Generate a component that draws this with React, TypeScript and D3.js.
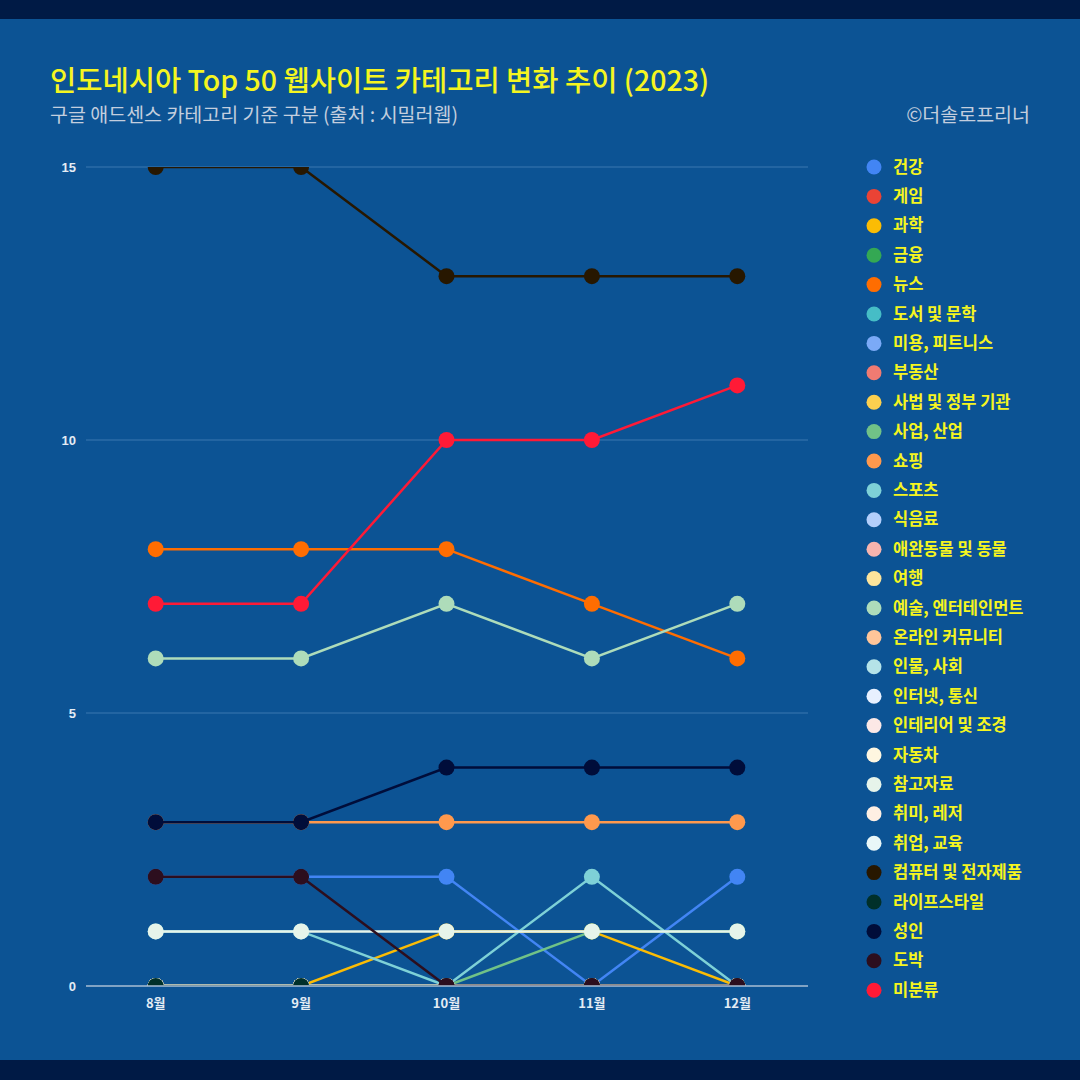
import * as d3 from 'd3';
import { useEffect, useRef } from 'react';

// months on the x axis
const months = ['8월', '9월', '10월', '11월', '12월'];
const yTicks = [0, 5, 10, 15];

// category names (legend order) and their colours
const categories = [
  '건강', '게임', '과학', '금융', '뉴스', '도서 및 문학', '미용, 피트니스', '부동산',
  '사법 및 정부 기관', '사업, 산업', '쇼핑', '스포츠', '식음료', '애완동물 및 동물', '여행',
  '예술, 엔터테인먼트', '온라인 커뮤니티', '인물, 사회', '인터넷, 통신', '인테리어 및 조경',
  '자동차', '참고자료', '취미, 레저', '취업, 교육', '컴퓨터 및 전자제품', '라이프스타일',
  '성인', '도박', '미분류',
];
const colors = [
  '#4285f4', '#ea4335', '#fbbc04', '#34a853', '#ff6d01', '#46bdc6', '#7baaf7', '#f07b72',
  '#fcd04f', '#71c287', '#ff994d', '#7ed1d7', '#b3cefb', '#f7b4ae', '#fde49b',
  '#aedcba', '#ffc599', '#b5e3e8', '#e8f0fe', '#fce8e6',
  '#fef6e0', '#e6f4ea', '#feefe3', '#e9f7f8', '#271700', '#00302a',
  '#000d3a', '#2c0e1e', '#ff1a36',
];
// site counts per month, same order as categories
const values = [
  [2, 2, 2, 0, 2],
  [0, 0, 0, 0, 0],
  [0, 0, 1, 1, 0],
  [0, 0, 0, 0, 0],
  [8, 8, 8, 7, 6],
  [0, 0, 0, 0, 0],
  [0, 0, 0, 0, 0],
  [0, 0, 0, 0, 0],
  [0, 0, 0, 0, 0],
  [0, 0, 0, 1, 1],
  [3, 3, 3, 3, 3],
  [1, 1, 0, 2, 0],
  [0, 0, 0, 0, 0],
  [0, 0, 0, 0, 0],
  [0, 0, 0, 0, 0],
  [6, 6, 7, 6, 7],
  [0, 0, 0, 0, 0],
  [0, 0, 0, 0, 0],
  [0, 0, 0, 0, 0],
  [0, 0, 0, 0, 0],
  [0, 0, 0, 0, 0],
  [1, 1, 1, 1, 1],
  [0, 0, 0, 0, 0],
  [0, 0, 0, 0, 0],
  [15, 15, 13, 13, 13],
  [0, 0, 0, 0, 0],
  [3, 3, 4, 4, 4],
  [2, 2, 0, 0, 0],
  [7, 7, 10, 10, 11],
];

const W = 1080;
const H = 1080;
const FONT = '"Noto Sans CJK KR", "Noto Sans", sans-serif';
const TICK_FONT = '"Liberation Sans", Arial, sans-serif';

const Chart = () => {
  const ref = useRef<SVGSVGElement | null>(null);

  useEffect(() => {
    const svg = d3.select(ref.current);
    svg.selectAll('*').remove();

    // background bands
    svg.append('rect').attr('width', W).attr('height', H).attr('fill', '#001a45');
    svg.append('rect').attr('x', 0).attr('y', 19).attr('width', W).attr('height', 1041).attr('fill', '#0c5394');

    // titles
    svg.append('text')
      .attr('x', 50).attr('y', 91)
      .attr('font-family', FONT).attr('font-size', 28.5).attr('font-weight', 500)
      .attr('fill', '#f5f520')
      .text('인도네시아 Top 50 웹사이트 카테고리 변화 추이 (2023)');
    svg.append('text')
      .attr('x', 50).attr('y', 122)
      .attr('font-family', FONT).attr('font-size', 19.5)
      .attr('fill', '#c3cede')
      .text('구글 애드센스 카테고리 기준 구분 (출처 : 시밀러웹)');
    svg.append('text')
      .attr('x', 1030).attr('y', 122).attr('text-anchor', 'end')
      .attr('font-family', FONT).attr('font-size', 19.5)
      .attr('fill', '#c3cede')
      .text('©더솔로프리너');

    const left = 86, right = 808, top = 167, bottom = 986;
    const x = d3.scalePoint<string>().domain(months).range([83, 810]).padding(0.5);
    const y = d3.scaleLinear().domain([0, 15]).range([bottom, top]);

    // grid
    svg.append('g')
      .selectAll('line')
      .data(yTicks.filter((t) => t > 0))
      .join('line')
      .attr('x1', left).attr('x2', right)
      .attr('y1', (d) => y(d)).attr('y2', (d) => y(d))
      .attr('stroke', '#3a78b0').attr('stroke-width', 1);

    svg.append('g')
      .attr('font-family', TICK_FONT).attr('font-size', 13).attr('font-weight', 700)
      .attr('fill', '#e4ecf4').attr('text-anchor', 'end')
      .selectAll('text')
      .data(yTicks)
      .join('text')
      .attr('x', 76).attr('y', (d) => y(d) + 5)
      .text((d) => d);

    svg.append('g')
      .attr('font-family', FONT).attr('font-size', 13).attr('font-weight', 700)
      .attr('fill', '#e4ecf4').attr('text-anchor', 'middle')
      .selectAll('text')
      .data(months)
      .join('text')
      .attr('x', (d) => x(d)!).attr('y', 1008)
      .text((d) => d);

    // plot area clip
    svg.append('clipPath').attr('id', 'plot-clip')
      .append('rect').attr('x', left - 20).attr('y', top).attr('width', right - left + 40).attr('height', bottom - top);

    const plot = svg.append('g').attr('clip-path', 'url(#plot-clip)');
    const line = d3.line<number>().x((_, i) => x(months[i])!).y((d) => y(d));

    categories.forEach((c, si) => {
      const g = plot.append('g');
      g.append('path')
        .attr('d', line(values[si]))
        .attr('fill', 'none')
        .attr('stroke', colors[si])
        .attr('stroke-width', 2.5);
      g.selectAll('circle')
        .data(values[si])
        .join('circle')
        .attr('cx', (_, i) => x(months[i])!)
        .attr('cy', (d) => y(d))
        .attr('r', 8)
        .attr('fill', colors[si]);
    });

    // baseline
    svg.append('line')
      .attr('x1', left).attr('x2', right)
      .attr('y1', bottom).attr('y2', bottom)
      .attr('stroke', '#a8bed4').attr('stroke-width', 1.5);

    // legend
    const legend = svg.append('g')
      .selectAll('g')
      .data(categories)
      .join('g')
      .attr('transform', (_, i) => `translate(874, ${167 + i * 29.4})`);
    legend.append('circle').attr('r', 7.5).attr('fill', (_, i) => colors[i]);
    legend.append('text')
      .attr('x', 19).attr('y', 5.5)
      .attr('font-family', FONT).attr('font-size', 16.5).attr('font-weight', 700)
      .attr('fill', '#f5f520')
      .text((d) => d);
  }, []);

  return <svg ref={ref} width={W} height={H} style={{ display: 'block' }} />;
};

export default function App() {
  return (
    <div style={{ position: 'absolute', left: 0, top: 0 }}>
      <Chart />
    </div>
  );
}
